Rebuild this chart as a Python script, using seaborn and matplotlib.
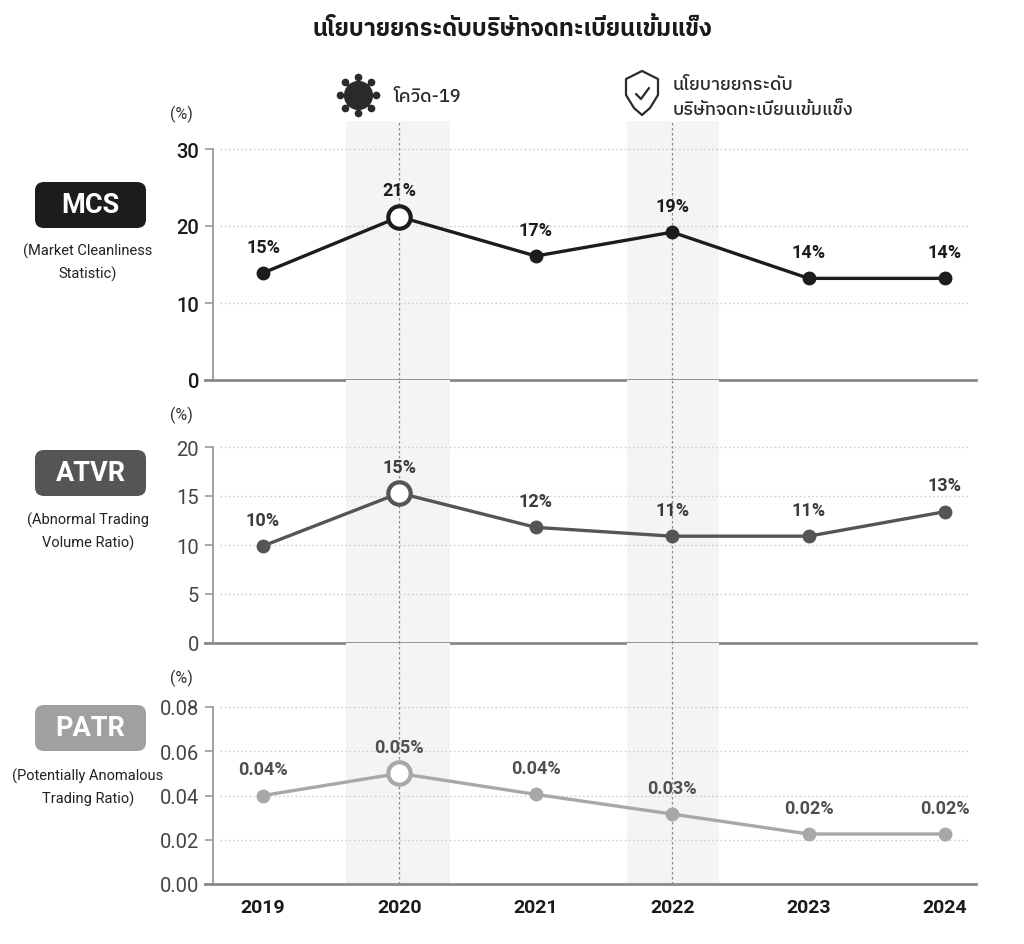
import matplotlib
matplotlib.use("Agg")
import matplotlib.pyplot as plt
import seaborn as sns
import pandas as pd
import numpy as np
from matplotlib import font_manager
from matplotlib.patches import FancyBboxPatch, PathPatch
from matplotlib.path import Path

years = [2019, 2020, 2021, 2022, 2023, 2024]
mcs_values = [13.9, 21.2, 16.1, 19.2, 13.2, 13.2]
mcs_labels = ["15%", "21%", "17%", "19%", "14%", "14%"]
atvr_values = [9.9, 15.3, 11.8, 10.9, 10.9, 13.4]
atvr_labels = ["10%", "15%", "12%", "11%", "11%", "13%"]
patr_values = [0.040, 0.050, 0.0405, 0.0316, 0.0226, 0.0226]
patr_labels = ["0.04%", "0.05%", "0.04%", "0.03%", "0.02%", "0.02%"]

title_text = "นโยบายยกระดับบริษัทจดทะเบียนเข้มแข็ง"
covid_text = "โควิด-19"
policy_text = ["นโยบายยกระดับ", "บริษัทจดทะเบียนเข้มแข็ง"]

sns.set_theme(style="white")

entries = font_manager.fontManager.ttflist
available = {f.name for f in entries}

def has_bold(name):
    for f in entries:
        if f.name == name:
            w = f.weight
            if isinstance(w, str):
                if "bold" in w.lower():
                    return True
            elif w >= 600:
                return True
    return False

thai_pref = ["Noto Sans Thai", "IBM Plex Sans Thai", "Kanit", "Noto Sans Thai UI", "Sarabun"]
thai_bold = [f for f in thai_pref if f in available and has_bold(f)][:1]
thai_reg = [f for f in thai_pref if f in available][:1]
if not thai_bold:
    thai_bold = thai_reg
num_font = [f for f in ["Roboto", "DejaVu Sans"] if f in available][:1]
plt.rcParams['font.family'] = thai_reg + num_font + ['DejaVu Sans']
THAI = thai_reg + num_font + ['DejaVu Sans']
THAI_B = thai_bold + num_font + ['DejaVu Sans']
NUM = num_font + ['DejaVu Sans']

W, H = 1024, 945
fig = plt.figure(figsize=(W / 100, H / 100), dpi=100)
fig.patch.set_facecolor("white")

def rect(x0, x1, yt, yb):
    return [x0 / W, 1 - yb / H, (x1 - x0) / W, (yb - yt) / H]

px_per_year = (945 - 263) / 5
xl = 2019 - (263 - 205) / px_per_year
xr = 2024 + (976 - 945) / px_per_year
xspine = 2019 - (263 - 213) / px_per_year

panels = [
    dict(vals=mcs_values, labs=mcs_labels, top=122, bot=381, ytop_px=150, ymax=30,
         ticks=[0, 10, 20, 30], fmt="{:.0f}", color="#1c1c1c", lab_color="#1c1c1c",
         tick_color="#1a1a1a", tick_weight="medium", name="MCS", box="#1c1c1c",
         sub="(Market Cleanliness\nStatistic)", box_y=206, sub_y=263, pct_y=114),
    dict(vals=atvr_values, labs=atvr_labels, top=381, bot=644, ytop_px=448, ymax=20,
         ticks=[0, 5, 10, 15, 20], fmt="{:.0f}", color="#555555", lab_color="#3c3c3c",
         tick_color="#444444", tick_weight="normal", name="ATVR", box="#555555",
         sub="(Abnormal Trading\nVolume Ratio)", box_y=474, sub_y=532, pct_y=415),
    dict(vals=patr_values, labs=patr_labels, top=644, bot=885, ytop_px=708, ymax=0.08,
         ticks=[0, 0.02, 0.04, 0.06, 0.08], fmt="{:.2f}", color="#a8a8a8", lab_color="#505050",
         tick_color="#444444", tick_weight="normal", name="PATR", box="#a0a0a0",
         sub="(Potentially Anomalous\nTrading Ratio)", box_y=729, sub_y=788, pct_y=678),
]

for i, p in enumerate(panels):
    ax = fig.add_axes(rect(205, 976, p["top"], p["bot"]))
    ax.patch.set_alpha(0)
    ylim_top = p["ymax"] * (p["bot"] - p["top"]) / (p["bot"] - p["ytop_px"])
    ax.set_xlim(xl, xr)
    ax.set_ylim(0, ylim_top)
    ax.axvspan(2020 - 0.39, 2020 + 0.37, color="#f4f4f4", zorder=0, lw=0)
    ax.axvspan(2022 - 0.33, 2022 + 0.34, color="#f4f4f4", zorder=0, lw=0)
    for xv in (2020, 2022):
        ax.axvline(xv, color="#8a8a8a", lw=0.9, ls=(0, (2.0, 2.0)), zorder=1)
    for t in p["ticks"][1:]:
        ax.axhline(t, xmin=(220 - 205) / 771, xmax=(970 - 205) / 771,
                   color="#d0d0d0", lw=1.0, ls=(0, (1.2, 1.8)), zorder=1)
    df = pd.DataFrame({"year": years, "value": p["vals"]})
    sns.lineplot(data=df, x="year", y="value", ax=ax, color=p["color"], lw=2.4,
                 marker="o", markersize=10, markeredgewidth=0, zorder=3)
    hl = df[df["year"] == 2020]
    sns.scatterplot(data=hl, x="year", y="value", ax=ax, s=260, color="white",
                    edgecolor=p["color"], linewidth=3, zorder=4)
    for x, y, lab in zip(years, p["vals"], p["labs"]):
        ax.annotate(lab, (x, y), xytext=(0, 19), textcoords="offset points",
                    ha="center", va="center", fontsize=13, fontweight="bold",
                    color=p["lab_color"], family=NUM)
    sns.despine(ax=ax)
    ax.spines["left"].set_position(("data", xspine))
    ax.spines["left"].set_bounds(0, p["ymax"])
    ax.spines["left"].set_color("#9a9a9a")
    ax.spines["bottom"].set_color("#8a8a8a")
    ax.spines["left"].set_linewidth(1.3)
    ax.spines["bottom"].set_linewidth(2.0)
    ax.set_yticks(p["ticks"])
    ax.set_yticklabels([p["fmt"].format(t) for t in p["ticks"]], family=NUM,
                       fontsize=14.5, color=p["tick_color"], fontweight=p["tick_weight"])
    ax.tick_params(axis="y", direction="out", length=6, width=1.2, colors="#9a9a9a",
                   labelcolor=p["tick_color"], pad=4, left=True)
    ax.set_xlabel("")
    ax.set_ylabel("")
    if i < 2:
        ax.set_xticks([])
    else:
        ax.set_xticks(years)
        ax.set_xticklabels([str(y) for y in years], family=NUM, fontsize=14,
                           fontweight="bold", color="#1a1a1a")
        ax.tick_params(axis="x", length=0, pad=10)
    fig.text(181 / W, 1 - p["pct_y"] / H, "(%)", ha="center", va="center",
             fontsize=11.5, color="#333333", family=NUM)
    bx0, bx1 = 35, 146
    by = p["box_y"]
    box = FancyBboxPatch((bx0 / W, 1 - (by + 23) / H), (bx1 - bx0) / W, 46 / H,
                         boxstyle="round,pad=0,rounding_size=0.009",
                         transform=fig.transFigure, facecolor=p["box"], edgecolor="none")
    fig.patches.append(box)
    fig.text((bx0 + bx1) / 2 / W, 1 - by / H, p["name"], ha="center", va="center",
             fontsize=19.5, fontweight="bold", color="white", family=NUM)
    fig.text(88 / W, 1 - p["sub_y"] / H, p["sub"], ha="center", va="center",
             fontsize=10.5, color="#222222", family=NUM, linespacing=1.6)

fig.text(512 / W, 1 - 30 / H, title_text, ha="center", va="center",
         fontsize=17, fontweight="bold", color="#1a1a1a", family=THAI_B)

# virus icon
vx, vy = 358 / W, 1 - 96 / H
for k in range(8):
    a = k * np.pi / 4
    x1, y1 = vx + 18 * np.cos(a) / W, vy + 18 * np.sin(a) / H
    fig.lines.append(plt.Line2D([vx, x1], [vy, y1], transform=fig.transFigure,
                                color="#2a2a2a", lw=1.6))
    fig.lines.append(plt.Line2D([x1], [y1], transform=fig.transFigure, marker="o",
                                markersize=4.5, color="#2a2a2a", lw=0))
fig.lines.append(plt.Line2D([vx], [vy], transform=fig.transFigure, marker="o",
                            markersize=20, color="#2a2a2a", lw=0))
fig.text(393 / W, 1 - 97 / H, covid_text, ha="left", va="center", fontsize=13,
         color="#2a2a2a", family=THAI_B, fontweight="medium")

# shield icon
cx, cy = 642, 94
pts = [(cx, cy - 22), (cx + 16, cy - 14), (cx + 16, cy + 2), (cx + 8, cy + 15),
       (cx, cy + 22), (cx - 8, cy + 15), (cx - 16, cy + 2), (cx - 16, cy - 14), (cx, cy - 22)]
verts = [(x / W, 1 - y / H) for x, y in pts]
shield = PathPatch(Path(verts, [Path.MOVETO] + [Path.LINETO] * 7 + [Path.CLOSEPOLY]),
                   transform=fig.transFigure, facecolor="white", edgecolor="#2a2a2a",
                   lw=1.6, joinstyle="round")
fig.patches.append(shield)
chk = [(cx - 6, cy + 1), (cx - 1, cy + 6), (cx + 7, cy - 5)]
fig.lines.append(plt.Line2D([x / W for x, _ in chk], [1 - y / H for _, y in chk],
                            transform=fig.transFigure, color="#2a2a2a", lw=1.6))
fig.text(673 / W, 1 - 85 / H, policy_text[0], ha="left", va="center", fontsize=13,
         color="#2a2a2a", family=THAI_B, fontweight="medium")
fig.text(673 / W, 1 - 110 / H, policy_text[1], ha="left", va="center",
         fontsize=13, color="#2a2a2a", family=THAI_B, fontweight="medium")

fig.savefig("out.png", dpi=100, facecolor="white")
